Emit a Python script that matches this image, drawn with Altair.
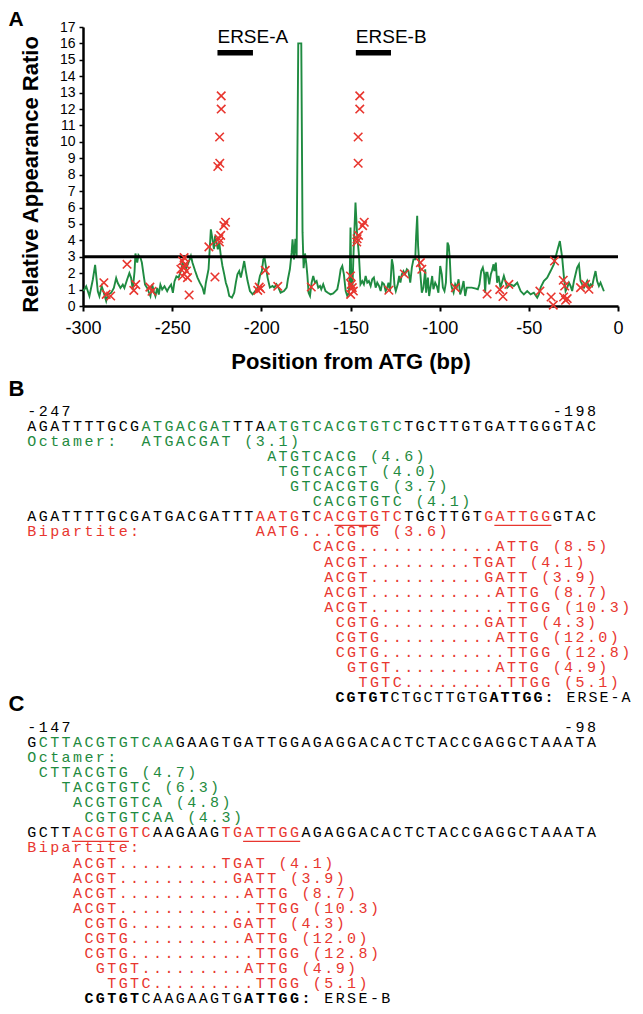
import altair as alt
import pandas as pd

GREEN = "#1f8b41"
RED = "#e8362f"
BLACK = "#000000"
COLORS = {"g": GREEN, "r": RED, "k": BLACK}

# ---------------- Panel A data ----------------
line_pos = [-299.7, -298.2, -296.4, -294.5, -293.2, -291.7, -290.8, -289.5, -288.3, -287.0,
            -286.1, -284.2, -282.7, -281.4, -280.5, -279.0, -277.7, -276.8, -275.3, -274.0,
            -273.0, -272.1, -271.1, -270.6, -269.6, -268.9, -267.8, -267.0, -265.9, -265.2,
            -264.0, -263.3, -262.2, -261.2, -260.3, -259.4, -258.4, -257.5, -256.6, -255.6,
            -254.3, -252.8, -251.9, -250.6, -249.6, -248.7, -247.6, -246.4, -245.1, -244.2,
            -242.3, -240.5, -239.5, -238.6, -237.1, -235.8, -234.5, -233.0, -232.0, -231.1,
            -229.6, -228.9, -228.3, -227.4, -226.6, -225.9, -225.1, -224.4, -223.6, -222.7,
            -221.8, -220.8, -219.9, -219.0, -218.0, -216.5, -215.2, -214.3, -213.4, -212.4,
            -211.5, -210.5, -209.6, -208.7, -207.7, -206.4, -204.9, -203.4, -202.1, -200.8,
            -199.7, -198.9, -198.2, -197.5, -196.5, -195.2, -193.7, -192.8, -191.5, -190.4,
            -189.2, -187.3, -185.8, -185.1, -184.0, -183.0, -182.5, -181.7, -180.9, -180.2,
            -179.3, -177.6, -176.9, -176.3, -175.5, -174.8, -174.2, -173.5, -172.7, -171.8,
            -170.9, -169.9, -169.0, -168.1, -167.1, -166.4, -165.3, -164.0, -162.7, -161.2,
            -159.7, -158.4, -157.4, -156.5, -155.5, -154.6, -153.7, -152.7, -151.8, -150.9,
            -150.4, -150.0, -149.5, -148.9, -148.2, -147.2, -146.3, -145.3, -144.4, -143.4,
            -142.5, -141.5, -140.6, -139.7, -138.7, -137.8, -136.9, -135.9, -135.0, -134.0,
            -133.1, -132.2, -131.2, -130.3, -129.4, -128.7, -127.8, -126.8, -126.1, -125.3,
            -124.6, -123.5, -122.7, -122.0, -121.2, -120.3, -119.4, -118.4, -117.5, -116.5,
            -115.6, -114.7, -113.7, -113.2, -112.6, -112.1, -111.5, -110.8, -110.0, -109.1,
            -108.1, -107.6, -106.6, -105.9, -104.9, -104.2, -103.5, -102.5, -101.6, -100.7,
            -99.7, -98.8, -98.2, -97.3, -96.5, -95.6, -94.9, -94.3, -93.7, -93.2,
            -92.2, -91.3, -90.4, -89.4, -88.5, -87.6, -86.6, -85.7, -84.8, -83.8,
            -82.0, -79.7, -78.6, -77.7, -76.7, -75.8, -75.0, -74.5, -73.9, -73.2,
            -72.2, -71.3, -70.7, -69.8, -69.3, -68.5, -67.8, -67.0, -65.9, -64.0,
            -62.1, -60.2, -58.4, -56.5, -54.6, -52.8, -50.9, -49.0, -47.2, -45.3,
            -44.4, -43.4, -41.6, -39.7, -37.8, -36.0, -34.1, -32.6, -31.3, -30.3,
            -29.4, -28.5, -27.5, -26.6, -25.7, -24.7, -23.8, -22.9, -21.9, -21.0,
            -20.1, -19.1, -18.2, -17.3, -16.3, -15.4, -14.5, -13.5, -12.6, -11.7,
            -10.7, -9.8, -7.9]
line_val = [0.91, 1.2, 0.61, 1.6, 2.5, 0.9, 0.6, 1.2, 0.8, 0.3,
            0.7, 0.8, 1.1, 1.7, 1.4, 1.1, 1.3, 1.1, 1.6, 2.0,
            1.7, 1.0, 2.1, 3.2, 2.65, 3.1, 2.95, 2.65, 1.8, 1.3,
            1.1, 0.9, 0.6, 1.3, 0.9, 0.6, 1.1, 0.7, 1.3, 1.0,
            1.2, 0.9, 1.1, 1.3, 0.8, 1.5, 1.8, 1.73, 2.13, 2.64,
            2.24, 2.74, 3.05, 2.64, 2.13, 1.73, 1.42, 1.12, 0.71, 1.42,
            2.24, 3.56, 4.67, 4.07, 3.46, 4.27, 3.86, 3.46, 3.86, 3.05,
            2.44, 1.93, 1.42, 1.12, 0.61, 0.51, 0.81, 1.42, 1.93, 2.13,
            1.73, 2.24, 2.74, 2.13, 1.52, 0.91, 0.71, 0.91, 1.12, 1.83,
            2.13, 2.84, 2.95, 2.44, 1.73, 1.12, 1.22, 1.12, 1.32, 1.12,
            0.81, 0.91, 1.12, 1.63, 2.24, 3.25, 4.07, 2.84, 4.1, 3.0,
            16.0, 16.0, 4.5, 2.3, 3.2, 2.6, 1.9, 0.81, 0.61, 1.42,
            1.83, 1.42, 1.52, 1.12, 1.22, 1.02, 1.32, 0.91, 0.81, 0.71,
            0.77, 0.91, 1.02, 1.52, 2.24, 2.44, 1.93, 0.91, 0.61, 0.81,
            2.0, 4.78, 1.0, 1.2, 3.5, 6.3, 4.37, 3.15, 1.32, 1.52,
            1.32, 1.83, 1.42, 1.52, 1.22, 1.63, 1.73, 1.12, 1.42, 1.22,
            0.91, 1.42, 1.32, 0.91, 1.12, 1.42, 0.91, 2.85, 2.44, 1.22,
            0.91, 1.32, 1.83, 1.42, 1.93, 2.13, 1.93, 2.24, 2.13, 1.42,
            2.34, 2.84, 2.84, 4.27, 5.5, 3.66, 2.64, 1.93, 0.81, 1.12,
            2.24, 0.81, 1.73, 0.61, 1.32, 1.83, 1.02, 1.42, 1.22, 0.81,
            2.44, 1.93, 1.12, 0.91, 1.42, 3.86, 3.66, 2.84, 1.42, 1.12,
            0.81, 1.32, 1.12, 1.63, 0.71, 1.02, 1.52, 0.61, 1.12, 1.12,
            1.12, 1.06, 1.02, 1.32, 2.13, 2.34, 1.93, 0.81, 2.03, 2.03,
            1.32, 1.93, 2.13, 2.54, 2.13, 2.64, 1.42, 1.83, 1.12, 1.83,
            1.12, 1.32, 1.22, 1.42, 0.91, 0.71, 0.91, 0.71, 0.81, 0.51,
            0.71, 1.12, 1.52, 1.73, 2.13, 2.54, 3.35, 3.96, 2.95, 1.73,
            0.91, 1.12, 1.42, 1.22, 0.91, 1.52, 1.93, 2.34, 2.54, 1.52,
            1.32, 1.12, 1.32, 1.52, 1.12, 1.32, 1.22, 1.73, 2.13, 1.52,
            1.22, 1.42, 0.9]

cross_pos = [-288.3, -287.0, -284.5, -275.3, -271.5, -270.4, -262.5, -261.3,
             -245.1, -244.2, -243.3, -243.3, -242.7, -242.0, -244.2, -241.4, -240.5,
             -229.4, -226.0, -224.4, -223.3, -223.4, -222.5, -222.5, -223.8, -223.5,
             -222.8, -221.0, -220.1,
             -202.0, -201.2, -200.4, -197.8, -190.8, -172.0,
             -150.0, -149.6, -149.0, -149.9, -148.4,
             -145.7, -145.7, -144.8, -144.8, -146.5, -146.3, -145.5, -143.2, -142.3,
             -128.5, -119.8, -110.8, -110.0, -91.2, -73.4, -66.3, -64.5, -61.2,
             -43.8, -37.5, -36.3, -35.6, -30.7, -29.9, -30.5, -29.4, -28.5,
             -21.0, -18.2, -16.3]
cross_val = [1.42, 0.71, 0.61, 2.54, 0.95, 1.3, 1.15, 0.9,
             2.24, 2.74, 2.95, 2.34, 2.54, 2.13, 1.83, 1.73, 0.67,
             3.6, 1.77, 8.5, 8.7, 10.3, 12.0, 12.8, 4.1, 3.9,
             4.3, 4.9, 5.1,
             0.95, 1.15, 1.05, 2.17, 1.2, 1.16,
             1.83, 1.32, 1.12, 0.71, 0.91,
             8.7, 10.3, 12.0, 12.8, 3.9, 4.1, 4.3, 4.9, 5.1,
             0.96, 1.95, 2.64, 2.24, 1.12, 0.73, 1.0, 0.58, 1.32,
             0.91, 0.55, 0.05, 2.74, 1.57, 1.22, 0.55, 0.35, 0.45,
             1.12, 1.32, 1.02]

x_ticks = [-300, -250, -200, -150, -100, -50, 0]
y_ticks = list(range(0, 18))
threshold = [3]
erse_names = ["ERSE-A", "ERSE-B"]
erse_start = [-224.6, -147.0]
erse_end = [-204.7, -127.3]
erse_bar_level = [15.43, 15.43]
erse_label_level = [16.0, 16.0]

# ---------------- Panels B / C data ----------------
# (row, start column, text, colour key)
segments = [
    (0, 0, "-247", "k"), (0, 46, "-198", "k"),
    (1, 0, "AGATTTTGCG", "k"), (1, 10, "ATGACGAT", "g"), (1, 18, "TTA", "k"),
    (1, 21, "ATGTCACGTGTC", "g"), (1, 33, "TGCTTGTGATTGGGTAC", "k"),
    (2, 0, "Octamer:", "g"), (2, 10, "ATGACGAT (3.1)", "g"),
    (3, 21, "ATGTCACG (4.6)", "g"),
    (4, 22, "TGTCACGT (4.0)", "g"),
    (5, 23, "GTCACGTG (3.7)", "g"),
    (6, 25, "CACGTGTC (4.1)", "g"),
    (7, 0, "AGATTTTGCGATGACGATTT", "k"), (7, 20, "AATG", "r"), (7, 24, "T", "k"),
    (7, 25, "CACGTGTC", "r"), (7, 33, "TGCTTGT", "k"), (7, 40, "GATTGG", "r"),
    (7, 46, "GTAC", "k"),
    (8, 0, "Bipartite:", "r"), (8, 20, "AATG...CGTG (3.6)", "r"),
    (9, 25, "CACG............ATTG (8.5)", "r"),
    (10, 26, "ACGT.........TGAT (4.1)", "r"),
    (11, 26, "ACGT..........GATT (3.9)", "r"),
    (12, 26, "ACGT...........ATTG (8.7)", "r"),
    (13, 26, "ACGT............TTGG (10.3)", "r"),
    (14, 27, "CGTG.........GATT (4.3)", "r"),
    (15, 27, "CGTG..........ATTG (12.0)", "r"),
    (16, 27, "CGTG...........TTGG (12.8)", "r"),
    (17, 28, "GTGT.........ATTG (4.9)", "r"),
    (18, 29, "TGTC.........TTGG (5.1)", "r"),
    (21, 0, "-147", "k"), (21, 47, "-98", "k"),
    (22, 0, "G", "k"), (22, 1, "CTTACGTGTCAA", "g"),
    (22, 13, "GAAGTGATTGGAGAGGACACTCTACCGAGGCTAAATA", "k"),
    (23, 0, "Octamer:", "g"),
    (24, 1, "CTTACGTG (4.7)", "g"),
    (25, 3, "TACGTGTC (6.3)", "g"),
    (26, 4, "ACGTGTCA (4.8)", "g"),
    (27, 5, "CGTGTCAA (4.3)", "g"),
    (28, 0, "GCTT", "k"), (28, 4, "ACGTGTC", "r"), (28, 11, "AAGAAG", "k"),
    (28, 17, "TGATTGG", "r"), (28, 24, "AGAGGACACTCTACCGAGGCTAAATA", "k"),
    (29, 0, "Bipartite:", "r"),
    (30, 4, "ACGT.........TGAT (4.1)", "r"),
    (31, 4, "ACGT..........GATT (3.9)", "r"),
    (32, 4, "ACGT...........ATTG (8.7)", "r"),
    (33, 4, "ACGT............TTGG (10.3)", "r"),
    (34, 5, "CGTG.........GATT (4.3)", "r"),
    (35, 5, "CGTG..........ATTG (12.0)", "r"),
    (36, 5, "CGTG...........TTGG (12.8)", "r"),
    (37, 6, "GTGT.........ATTG (4.9)", "r"),
    (38, 7, "TGTC.........TTGG (5.1)", "r"),
]
# consensus lines: (row, start column, text, character pitch in columns)
erse_lines = [(19, 27, "CGTGTCTGCTTGTGATTGG: ERSE-A", 26 / 27),
              (39, 5, "CGTGTCAAGAAGTGATTGG: ERSE-B", 1.0)]
erse_bold_idx = list(range(0, 5)) + list(range(14, 20))
# underlined stretches: (row, first column, column after last)
underlines = [(7, 27, 31), (7, 41, 46), (28, 4, 9), (28, 19, 24)]
panel_labels = ["B", "C"]
panel_label_rows = [-1.45, 19.5]

# ---------------- build tables ----------------
line_df = pd.DataFrame({"pos": line_pos, "val": line_val})
cross_df = pd.DataFrame({"pos": cross_pos, "val": cross_val})
thr_df = pd.DataFrame({"val": threshold})
erse_df = pd.DataFrame({"name": erse_names, "pos": erse_start, "pos2": erse_end,
                        "bar": erse_bar_level, "lab": erse_label_level})
a_df = pd.DataFrame({"t": ["A"], "pos": [-341.8], "val": [18.1]})

chars = []
for row, col, txt, ck in segments:
    for j, ch in enumerate(txt):
        if ch != " ":
            chars.append({"row": row, "x": col + j + 0.5, "ch": ch, "color": COLORS[ck], "w": "n"})
for row, col, txt, pitch in erse_lines:
    for j, ch in enumerate(txt):
        if ch != " ":
            chars.append({"row": row, "x": col + (j + 0.5) * pitch, "ch": ch, "color": BLACK,
                          "w": "b" if j in erse_bold_idx else "n"})
char_df = pd.DataFrame(chars)
ul_df = pd.DataFrame([{"y": r + 0.6, "x0": a, "x1": b, "color": RED} for r, a, b in underlines])
lab_df = pd.DataFrame({"t": panel_labels, "row": panel_label_rows, "x": [-1.541, -1.541]})

# ---------------- Panel A ----------------
xA = alt.Scale(domain=[-300, 0], nice=False, zero=False)
yA = alt.Scale(domain=[0, 17], nice=False, zero=False)
FONT = "Liberation Sans"

x_axis = alt.Axis(values=x_ticks, title="Position from ATG (bp)", titleFont=FONT, titleFontSize=22,
                  titleFontWeight="bold", titleColor=BLACK, titleY=62, titleBaseline="alphabetic",
                  labelFont=FONT, labelFontSize=18, labelColor=BLACK, labelPadding=8,
                  labelExpr="toString(datum.value)",
                  labelFlush=False, labelOverlap=False, tickSize=5, tickWidth=2, tickColor=BLACK,
                  domainColor=BLACK, domainWidth=2.5, grid=False)
y_axis = alt.Axis(values=y_ticks, title="Relative Appearance Ratio", titleFont=FONT, titleFontSize=22,
                  titleFontWeight="bold", titleColor=BLACK, titleX=-46, titleY=147,
                  titleBaseline="alphabetic", titleAngle=-90,
                  labelFont=FONT, labelFontSize=14, labelColor=BLACK, labelPadding=4,
                  labelFlush=False, labelOverlap=False, labelSeparation=0,
                  tickSize=4, tickWidth=1.5, tickColor=BLACK,
                  domainColor=BLACK, domainWidth=2.5, grid=False, format="d")


def X(field):
    return alt.X(field, type="quantitative", scale=xA, axis=x_axis)


def Y(field):
    return alt.Y(field, type="quantitative", scale=yA, axis=y_axis)


line = alt.Chart(line_df).mark_line(color=GREEN, strokeWidth=1.9).encode(x=X("pos"), y=Y("val"))
thr = alt.Chart(thr_df).mark_rule(color=BLACK, strokeWidth=3).encode(y=Y("val"))
crosses = alt.Chart(cross_df).mark_point(
    shape="M-1,-1L1,1M1,-1L-1,1", filled=False, size=72, strokeWidth=1.6, color=RED, opacity=1
).encode(x=X("pos"), y=Y("val"))
bars = alt.Chart(erse_df).mark_rule(color=BLACK, strokeWidth=5.3).encode(
    x=X("pos"), x2="pos2:Q", y=Y("bar"))
erse_txt = alt.Chart(erse_df).mark_text(font=FONT, fontSize=19, align="left",
                                        baseline="alphabetic", color=BLACK).encode(
    x=X("pos"), y=Y("lab"), text="name:N")
a_lab = alt.Chart(a_df).mark_text(font=FONT, fontSize=21, fontWeight="bold", align="left",
                                  baseline="top", color=BLACK).encode(
    x=X("pos"), y=Y("val"), text="t:N")

panelA = alt.layer(line, thr, crosses, bars, erse_txt, a_lab).properties(width=535, height=279)

# ---------------- Panels B/C ----------------
xs = alt.Scale(domain=[4.98, 53.3], nice=False, zero=False)
ys = alt.Scale(domain=[-2.26, 39.4], nice=False, zero=False, reverse=True)
MONO = "Liberation Mono"
MONO_SIZE = 15


def tx(field):
    return alt.X(field, type="quantitative", scale=xs, axis=None)


def ty(field):
    return alt.Y(field, type="quantitative", scale=ys, axis=None)


norm = alt.Chart(char_df).transform_filter(alt.datum.w == "n").mark_text(
    font=MONO, fontSize=MONO_SIZE, align="center", baseline="middle").encode(
    x=tx("x"), y=ty("row"), text="ch:N", color=alt.Color("color:N", scale=None))
bold = alt.Chart(char_df).transform_filter(alt.datum.w == "b").mark_text(
    font=MONO, fontSize=MONO_SIZE, fontWeight="bold", align="center", baseline="middle").encode(
    x=tx("x"), y=ty("row"), text="ch:N", color=alt.Color("color:N", scale=None))
ul = alt.Chart(ul_df).mark_rule(strokeWidth=1.3).encode(
    x=tx("x0"), x2="x1:Q", y=ty("y"), color=alt.Color("color:N", scale=None))
labs = alt.Chart(lab_df).mark_text(font=FONT, fontSize=22, fontWeight="bold", align="left",
                                   baseline="middle", color=BLACK).encode(
    x=tx("x"), y=ty("row"), text="t:N")

panelBC = alt.layer(norm, bold, ul, labs).properties(width=551.8, height=627.0)

chart = alt.vconcat(panelA, panelBC, spacing=5).properties(padding=0).configure_view(stroke=None)
chart.save("out.html", embed_options={"renderer": "svg", "actions": False})
